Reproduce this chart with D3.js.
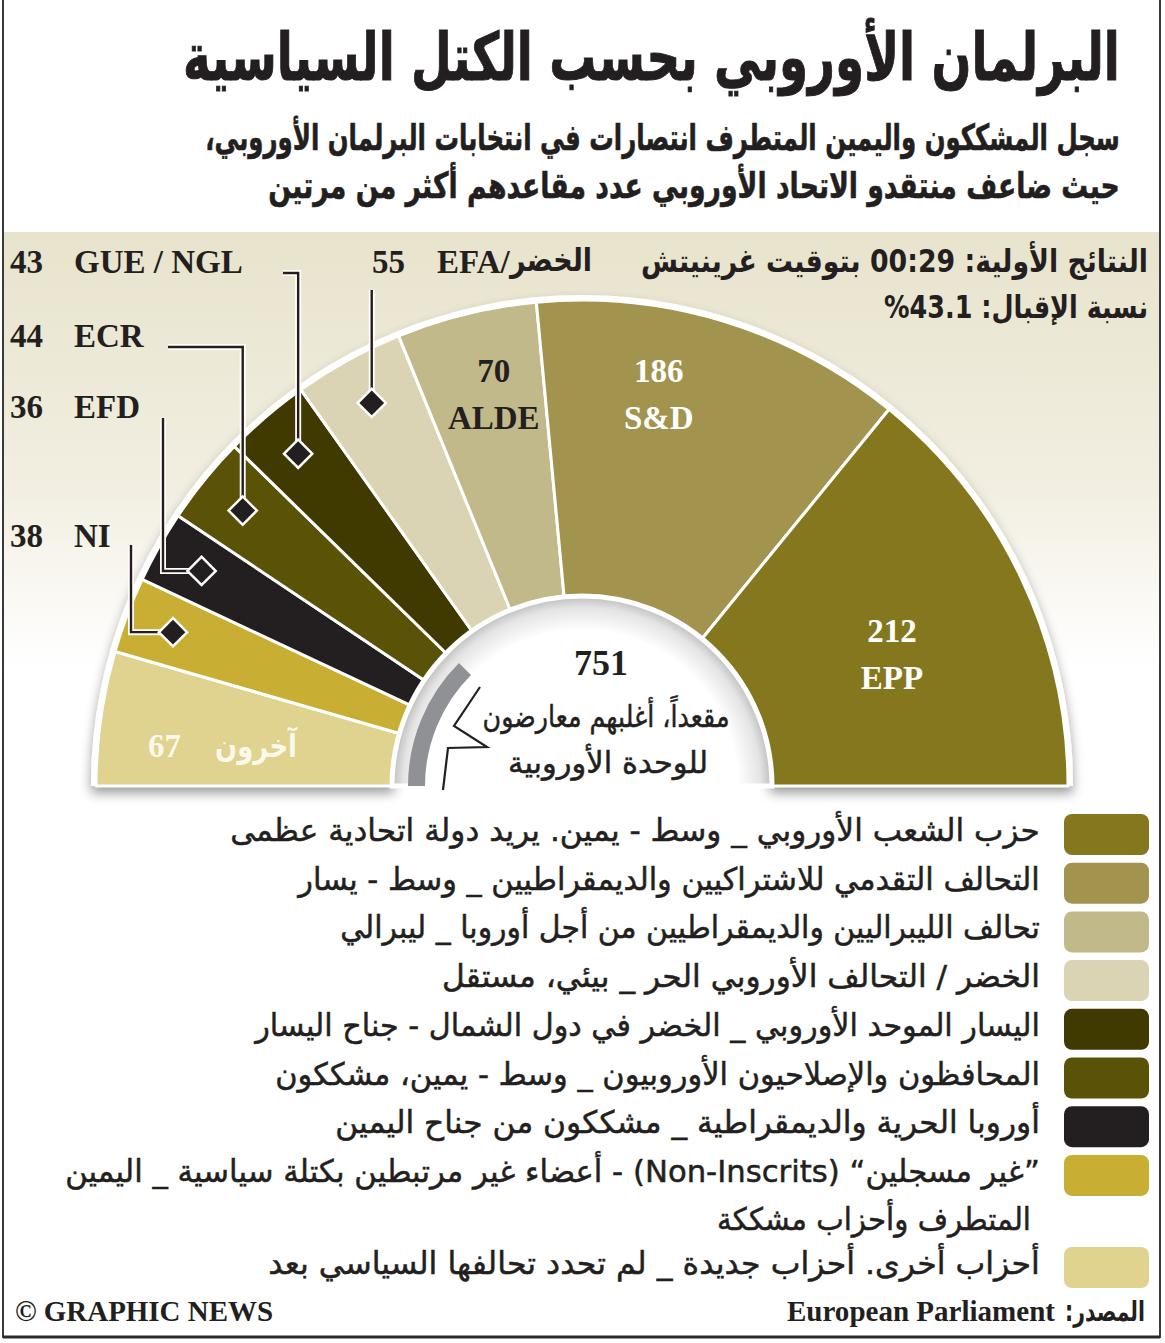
<!DOCTYPE html>
<html>
<head>
<meta charset="utf-8">
<script src="https://cdn.jsdelivr.net/npm/d3@7"></script>
<style>
  body { margin: 0; background: #fff; }
  svg { display: block; }
</style>
</head>
<body>
<div id="chart"></div>
<script>
// seats per group, left to right round the half-circle
var parties = ["Others", "NI", "EFD", "ECR", "GUE/NGL", "EFA", "ALDE", "S&D", "EPP"];
var seats = [67, 38, 36, 44, 43, 55, 70, 186, 212];
var colors = ["#e0d28f", "#c8ae32", "#231f20", "#5a5206", "#403a00", "#dad4b4", "#c2b98a", "#a2944e", "#84771d"];

var legendOrder = ["EPP", "S&D", "ALDE", "EFA", "GUE/NGL", "ECR", "EFD", "NI", "Others"];
var legendLabels = [
    ["حزب الشعب الأوروبي _ وسط - يمين. يريد دولة اتحادية عظمى"],
    ["التحالف التقدمي للاشتراكيين والديمقراطيين _ وسط - يسار"],
    ["تحالف الليبراليين والديمقراطيين من أجل أوروبا _ ليبرالي"],
    ["الخضر / التحالف الأوروبي الحر _ بيئي، مستقل"],
    ["اليسار الموحد الأوروبي _ الخضر في دول الشمال - جناح اليسار"],
    ["المحافظون والإصلاحيون الأوروبيون _ وسط - يمين، مشككون"],
    ["أوروبا الحرية والديمقراطية _ مشككون من جناح اليمين"],
    ["”غير مسجلين“ (Non-Inscrits) - أعضاء غير مرتبطين بكتلة سياسية _ اليمين", "المتطرف وأحزاب مشككة"],
    ["أحزاب أخرى. أحزاب جديدة _ لم تحدد تحالفها السياسي بعد"]
];

var title = "البرلمان الأوروبي بحسب الكتل السياسية";
var subtitle = ["سجل المشككون واليمين المتطرف انتصارات في انتخابات البرلمان الأوروبي،",
    "حيث ضاعف منتقدو الاتحاد الأوروبي عدد مقاعدهم أكثر من مرتين"];
var info = ["النتائج الأولية: 00:29 بتوقيت غرينيتش", "نسبة الإقبال: \u202D%43.1\u202C"];
var totalNote = ["مقعداً، أغلبهم معارضون", "للوحدة الأوروبية"];

var AR = "'DejaVu Sans', sans-serif";
var SERIF = "'Liberation Serif', 'DejaVu Serif', serif";

var width = 1165, height = 1343;
var cx = 582, cy = 786, rOuter = 486, rInner = 190;

var svg = d3.select("#chart").append("svg")
    .attr("width", width)
    .attr("height", height);

var defs = svg.append("defs");

var bg = defs.append("linearGradient")
    .attr("id", "bg")
    .attr("x1", 0).attr("y1", 0).attr("x2", 0).attr("y2", 1);
bg.append("stop").attr("offset", "0%").attr("stop-color", "#e7e3cc");
bg.append("stop").attr("offset", "45%").attr("stop-color", "#f2efe2");
bg.append("stop").attr("offset", "75%").attr("stop-color", "#ffffff");

// the hole is drawn inside the translated chart group, so its centre is 0,0
var hole = defs.append("radialGradient")
    .attr("id", "hole")
    .attr("gradientUnits", "userSpaceOnUse")
    .attr("cx", 0).attr("cy", 0).attr("r", rInner);
hole.append("stop").attr("offset", "82%").attr("stop-color", "#ffffff");
hole.append("stop").attr("offset", "94%").attr("stop-color", "#e4e4e4");
hole.append("stop").attr("offset", "100%").attr("stop-color", "#bdbdbd");

var shadow = defs.append("filter")
    .attr("id", "shadow")
    .attr("x", "-10%").attr("y", "-10%")
    .attr("width", "120%").attr("height", "125%");
shadow.append("feDropShadow")
    .attr("dx", 0).attr("dy", 7)
    .attr("stdDeviation", 6)
    .attr("flood-color", "#000")
    .attr("flood-opacity", 0.4);

// backgrounds and frame
svg.append("rect")
    .attr("x", 3).attr("y", 232)
    .attr("width", 1157).attr("height", 580)
    .attr("fill", "url(#bg)");

svg.append("path")
    .attr("d", "M3,0 V1337 H1160 V0")
    .attr("fill", "none")
    .attr("stroke", "#3a3a3a")
    .attr("stroke-width", 2);
svg.append("line")
    .attr("x1", 3).attr("x2", 1160)
    .attr("y1", 1337).attr("y2", 1337)
    .attr("stroke", "#2a2a2a")
    .attr("stroke-width", 3);

// right aligned (or centred) arabic text, squeezed to the given width
function rtlText(parent, str, o) {
    var t = parent.append("text")
        .attr("direction", "rtl")
        .attr("font-family", o.family || AR)
        .attr("font-weight", o.weight || "bold")
        .attr("font-size", o.size)
        .attr("fill", o.fill || "#231f20")
        .attr("text-anchor", "middle")
        .text(str);
    if (o.heavy) {
        t.attr("stroke", o.fill || "#231f20").attr("stroke-width", o.heavy);
    }
    var w = t.node().getComputedTextLength();
    var tw = o.width || w;
    var sx = tw / w;
    var mid = o.center !== undefined ? o.center : o.right - tw / 2;
    t.attr("transform", "translate(" + mid + "," + o.y + ") scale(" + sx + ",1)");
    return t;
}

function serifText(parent, str, x, y, o) {
    o = o || {};
    var t = parent.append("text")
        .attr("x", x).attr("y", y)
        .attr("font-family", SERIF)
        .attr("font-weight", "bold")
        .attr("font-size", o.size || 33)
        .attr("fill", o.fill || "#231f20")
        .attr("text-anchor", o.anchor || "start")
        .text(str);
    if (o.length) {
        t.attr("textLength", o.length).attr("lengthAdjust", "spacingAndGlyphs");
    }
    return t;
}

// header
var header = svg.append("g");
rtlText(header, title, {right: 1120, y: 80, width: 937, size: 66, heavy: 1});
rtlText(header, subtitle[0], {right: 1120, y: 150, width: 915, size: 36, heavy: 0.6});
rtlText(header, subtitle[1], {right: 1120, y: 198, width: 852, size: 36, heavy: 0.6});

rtlText(svg, info[0], {right: 1148, y: 272, width: 507, size: 32});
rtlText(svg, info[1], {right: 1148, y: 318, width: 264, size: 32});

// half donut
var pie = d3.pie()
    .value(function (d) { return d; })
    .sort(null)
    .startAngle(-Math.PI / 2)
    .endAngle(Math.PI / 2);
var arcs = pie(seats);

var arc = d3.arc()
    .innerRadius(rInner)
    .outerRadius(rOuter);

var chart = svg.append("g")
    .attr("transform", "translate(" + cx + "," + cy + ")");

chart.append("path")
    .attr("d", d3.arc()({
        innerRadius: rInner - 2, outerRadius: rOuter + 5,
        startAngle: -Math.PI / 2, endAngle: Math.PI / 2
    }))
    .attr("fill", "#fff")
    .attr("filter", "url(#shadow)");

chart.selectAll(".slice")
    .data(arcs)
    .enter().append("path")
    .attr("class", "slice")
    .attr("d", arc)
    .attr("fill", function (d, i) { return colors[i]; })
    .attr("stroke", "#fff")
    .attr("stroke-width", 3)
    .attr("stroke-linejoin", "round");

chart.append("path")
    .attr("d", d3.arc()({
        innerRadius: 0, outerRadius: rInner,
        startAngle: -Math.PI / 2, endAngle: Math.PI / 2
    }))
    .attr("fill", "url(#hole)")
    .attr("stroke", "#fff")
    .attr("stroke-width", 5);

// grey band and bracket in the hole
chart.append("path")
    .attr("d", d3.arc()({
        innerRadius: 157, outerRadius: 174,
        startAngle: -Math.PI / 2, endAngle: -45 * Math.PI / 180
    }))
    .attr("fill", "#8f9194");

svg.append("path")
    .attr("d", "M480,687 L454,726 L487,747 L448,748 L443,790")
    .attr("fill", "none")
    .attr("stroke", "#231f20")
    .attr("stroke-width", 2.2)
    .attr("stroke-linejoin", "miter");

function polar(a, r) {
    return [cx + r * Math.sin(a), cy - r * Math.cos(a)];
}
function midAngle(d) { return (d.startAngle + d.endAngle) / 2; }

// labels inside the slices: radius and angle nudge (degrees)
var inside = {
    "ALDE": {r: 402, da: 1.1, fill: "#231f20"},
    "S&D": {r: 399, da: -5.8, fill: "#ffffff"},
    "EPP": {r: 337, da: 2.3, fill: "#ffffff"}
};
arcs.forEach(function (d, i) {
    var cfg = inside[parties[i]];
    if (!cfg) return;
    var p = polar(midAngle(d) + cfg.da * Math.PI / 180, cfg.r);
    serifText(svg, seats[i], p[0], p[1] - 12, {anchor: "middle", fill: cfg.fill});
    serifText(svg, parties[i], p[0], p[1] + 35, {anchor: "middle", fill: cfg.fill});
});

// others
(function () {
    var i = parties.indexOf("Others");
    var p = polar(midAngle(arcs[i]) - 2 * Math.PI / 180, 362);
    serifText(svg, seats[i], p[0] - 74, p[1] + 9, {fill: "#fbf8ec"});
    rtlText(svg, "آخرون", {right: p[0] + 75, y: p[1] + 9, width: 82, size: 32, fill: "#fbf8ec"});
})();

// total in the middle
var total = d3.sum(seats);
serifText(svg, total, 601, 675, {anchor: "middle", size: 36});
rtlText(svg, totalNote[0], {center: 606, y: 727, width: 247, size: 30, weight: "normal", heavy: 0.5});
rtlText(svg, totalNote[1], {center: 608, y: 773, width: 200, size: 30, weight: "normal", heavy: 0.5});

// callouts for the small groups
var callouts = [
    {party: "GUE/NGL", name: "GUE / NGL", ty: 273, route: "v", lx: 283, ly: 273},
    {party: "ECR", name: "ECR", ty: 347, route: "v", lx: 168, ly: 347},
    {party: "EFD", name: "EFD", ty: 418, route: "h", lx: 163, ly: 418},
    {party: "NI", name: "NI", ty: 547, route: "h", lx: 131, ly: 545},
    {party: "EFA", name: null, ty: 273, route: "v", lx: null, ly: 290}
];

var lineGroup = svg.append("g");
var markGroup = svg.append("g");

callouts.forEach(function (c) {
    var i = parties.indexOf(c.party);
    var p = polar(midAngle(arcs[i]), 437);
    var d;
    if (c.route === "v") {
        d = "M" + p[0] + "," + p[1] + " V" + c.ly + (c.lx !== null ? " H" + c.lx : "");
    } else {
        d = "M" + p[0] + "," + p[1] + " H" + c.lx + " V" + c.ly;
    }
    lineGroup.append("path").attr("d", d)
        .attr("fill", "none").attr("stroke", "#fff").attr("stroke-width", 6);
    lineGroup.append("path").attr("d", d)
        .attr("fill", "none").attr("stroke", "#2b1a1a").attr("stroke-width", 2.4);
    markGroup.append("rect")
        .attr("x", -10).attr("y", -10)
        .attr("width", 20).attr("height", 20)
        .attr("transform", "translate(" + p[0] + "," + p[1] + ") rotate(45)")
        .attr("fill", "#231f20")
        .attr("stroke", "#fff")
        .attr("stroke-width", 2.5);

    if (c.name) {
        serifText(svg, seats[i], 10, c.ty);
        serifText(svg, c.name, 74, c.ty);
    }
});

(function () {
    var i = parties.indexOf("EFA");
    serifText(svg, seats[i], 372, 273);
    serifText(svg, "EFA/", 437, 273);
    rtlText(svg, "الخضر", {right: 592, y: 271, width: 82, size: 32});
})();

// legend
var legendY = d3.scaleOrdinal()
    .domain(legendOrder)
    .range([834, 882.7, 931.4, 980.1, 1028.8, 1077.5, 1126.2, 1174.9, 1267]);
var legendLeft = [230, 298, 340, 442, 255, 275, 335, 65, 268];

var legend = svg.append("g");
legendOrder.forEach(function (name, k) {
    var i = parties.indexOf(name);
    var y = legendY(name);
    legend.append("rect")
        .attr("x", 1064).attr("y", y - 20)
        .attr("width", 85).attr("height", 41)
        .attr("rx", 8)
        .attr("fill", colors[i]);
    rtlText(legend, legendLabels[k][0], {
        right: 1040, y: y + 7, width: 1040 - legendLeft[k], size: 31, weight: "normal", heavy: 0.5
    });
    if (legendLabels[k][1]) {
        rtlText(legend, legendLabels[k][1], {
            right: 1031, y: y + 55, width: 314, size: 31, weight: "normal", heavy: 0.5
        });
    }
});

// footer
serifText(svg, "© GRAPHIC NEWS", 15, 1321, {size: 29, length: 258});
serifText(svg, "European Parliament", 787, 1321, {size: 29, length: 268});
rtlText(svg, "المصدر:", {right: 1145, y: 1321, width: 80, size: 28});
</script>
</body>
</html>
